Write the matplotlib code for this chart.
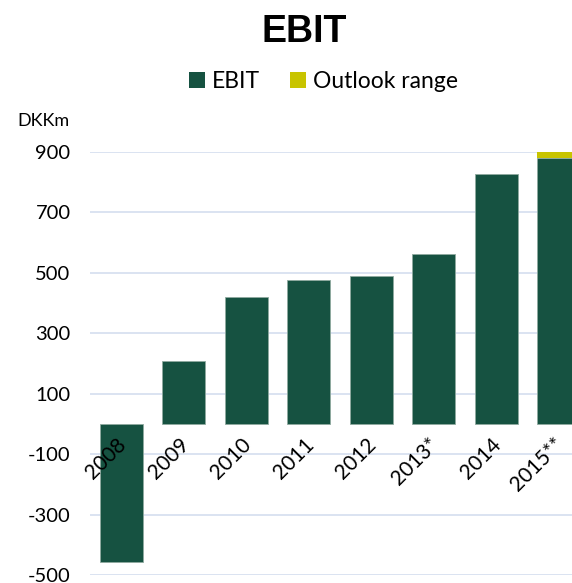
import matplotlib
matplotlib.use("Agg")
import matplotlib.pyplot as plt
from matplotlib.patches import Patch

categories = ["2008", "2009", "2010", "2011", "2012", "2013*", "2014", "2015**"]
ebit = [-457, 209, 419, 477, 488, 562, 827, 880]
outlook = [0, 0, 0, 0, 0, 0, 0, 20]
yticks = [900, 700, 500, 300, 100, -100, -300, -500]

GREEN = "#165241"
YELLOW = "#C8C400"
GRID = "#DAE3F1"
FONT = "Lato"

fig = plt.figure(figsize=(5.72, 5.83), dpi=100)
W, H = 572, 583
ax = fig.add_axes([90 / W, (H - 575) / H, 500 / W, (575 - 151.7) / H])

x = list(range(len(categories)))
ax.bar(x, ebit, width=0.69, color=GREEN, edgecolor="#8FAAA0", linewidth=0.6, zorder=3)
ax.bar(x, outlook, bottom=ebit, width=0.69, color=YELLOW, linewidth=0, zorder=3)

ax.set_xlim(-0.5, 7.5)
ax.set_ylim(-500, 900)
ax.set_yticks(yticks)
ax.set_yticklabels([str(v) for v in yticks], fontfamily=FONT, fontsize=14.5)
ax.tick_params(axis="y", length=0, pad=14)
ax.set_xticks([])
for s in ax.spines.values():
    s.set_visible(False)
ax.grid(axis="y", color=GRID, linewidth=1.4, zorder=0)
ax.set_axisbelow(True)

for i, lab in enumerate(categories):
    ax.text(i + 0.03, -58, lab, rotation=45, rotation_mode="anchor",
            ha="right", va="center", fontfamily=FONT, fontsize=15, zorder=4)

fig.text(17 / W, 1 - 126 / H, "DKKm", fontfamily=FONT, fontsize=13,
         ha="left", va="baseline")
fig.text(304.5 / W, 1 - 42 / H, "EBIT", fontfamily="Liberation Sans",
         fontweight="bold", fontsize=27, ha="center", va="baseline")

handles = [Patch(facecolor=GREEN, label="EBIT"),
           Patch(facecolor=YELLOW, label="Outlook range")]
fig.legend(handles=handles, loc="center", bbox_to_anchor=(323.5 / W, 1 - 82 / H),
           ncol=2, frameon=False, prop={"family": FONT, "size": 16.5},
           handlelength=0.7, handleheight=0.7, handletextpad=0.3,
           columnspacing=1.3)

fig.savefig("out.png", dpi=100)
